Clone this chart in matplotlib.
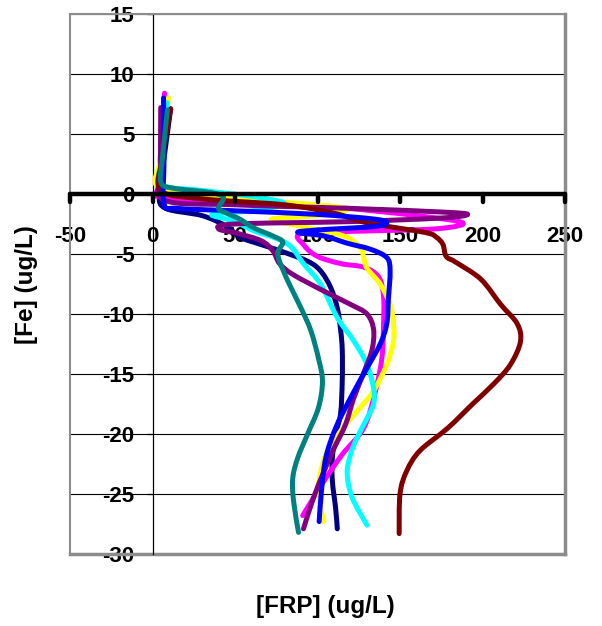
import numpy as np
import matplotlib.pyplot as plt
from matplotlib.path import Path
from matplotlib.patches import PathPatch

plt.rcParams['font.family'] = ['Liberation Sans', 'DejaVu Sans']
plt.rcParams['font.weight'] = 'bold'
plt.rcParams['axes.unicode_minus'] = False

# --- profiles: [FRP] (x) vs [Fe] (y) ---
navy_x = [11, 7, 4, 8, 30, 45, 53, 65.5, 77.6, 94, 101.8, 108, 112, 114, 115, 115, 114, 111, 109, 109, 111, 112]
navy_y = [7.1, 3, 0, -1.2, -1.8, -2.7, -3.6, -4.2, -4.75, -5.6, -6.4, -7.8, -9.5, -11.3, -13, -15.5, -18.3, -20, -22, -23.9, -26.2, -27.9]

magenta_x = [7.3, 4, 6, 60, 110, 160, 188, 172, 125, 90, 92, 100, 114, 128, 137, 140, 140, 139, 135, 128, 115, 104, 91]
magenta_y = [8.4, 1.1, -0.3, -0.7, -1.1, -1.8, -2.4, -2.9, -3.1, -3.3, -4.3, -5.2, -5.8, -6.1, -6.9, -8.5, -11, -13.7, -16.5, -19.5, -21.7, -23.9, -26.8]

yellow_x = [9.7, 5, 4, 40, 100, 118, 100, 72, 90, 116, 126, 128, 130, 138, 144, 146, 146, 142, 134, 124, 114, 106, 102, 100.6, 103.6]
yellow_y = [8, 3, 0.5, -0.3, -0.9, -1.3, -1.8, -2.1, -2.7, -3.5, -4.5, -5.3, -6.2, -7.5, -9.2, -10.8, -12.3, -14.2, -16.4, -18.1, -19.75, -21.4, -23.1, -24.75, -27.3]

cyan_x = [9, 6, 5, 30, 60, 80, 60, 36, 49, 62, 75, 84, 91.5, 101.8, 112, 122, 130, 134, 134, 130, 124, 120, 118, 121, 130]
cyan_y = [7.6, 3, 0.8, 0.3, -0.2, -0.8, -1.4, -1.7, -2.25, -3.1, -3.7, -4.4, -5.8, -7.5, -10.3, -12.25, -14.2, -16.2, -17.5, -18.7, -20.3, -21.7, -23.3, -25.3, -27.6]

purple_x = [5, 5, 7, 50, 120, 175, 191, 175, 120, 50, 40, 52, 66, 73, 77, 85, 104, 120, 130, 134, 133, 128, 122, 117, 110, 104, 97.6, 91.5]
purple_y = [7.2, 2, -0.5, -0.9, -1.2, -1.5, -1.7, -2.0, -2.3, -2.5, -2.9, -3.3, -3.9, -4.75, -5.8, -6.7, -8.1, -9.2, -10, -11.3, -13, -14.9, -17, -19.2, -21.2, -23.1, -25.3, -27.9]

maroon_x = [11, 6, 5, 30, 80, 110, 130, 165, 172, 176, 178, 184, 199, 211, 221, 223, 217, 207, 194, 179, 162, 154, 150, 149.5]
maroon_y = [7.1, 3, 0.3, -0.4, -0.9, -1.6, -2.4, -3.2, -3.6, -4.2, -5.2, -5.7, -7.1, -9.2, -10.8, -12.3, -14.2, -15.8, -17.5, -19.5, -21.4, -23.1, -25, -28.3]

teal_x = [9, 6, 5, 12, 36, 43, 40, 45, 53, 61, 73, 79, 76, 77, 82, 90, 96, 100.6, 103, 100.6, 94, 88, 85, 85.5, 88.5]
teal_y = [7.0, 3, 1, 0.5, 0.1, -0.3, -1.2, -1.6, -2.1, -2.8, -3.5, -4.0, -4.8, -5.6, -7.25, -9.5, -11.4, -13.7, -15.6, -17.8, -20, -22, -23.7, -25.6, -28.2]

blue_x = [6.7, 7, 7, 15, 50, 100, 135, 142, 135, 100, 88, 104, 118, 132, 142, 144, 143, 142, 138, 130, 120, 111, 105, 102.4, 101]
blue_y = [8, 3, -0.8, -1.2, -1.4, -1.7, -2.1, -2.4, -2.7, -3.0, -3.2, -3.5, -4.1, -4.6, -5.3, -6.4, -8.7, -10.8, -12.5, -14.5, -17, -19.5, -22, -24.75, -27.3]

series = [
    (navy_x, navy_y, '#000080'),
    (magenta_x, magenta_y, '#FF00FF'),
    (yellow_x, yellow_y, '#FFFF00'),
    (cyan_x, cyan_y, '#00FFFF'),
    (purple_x, purple_y, '#800080'),
    (maroon_x, maroon_y, '#800000'),
    (blue_x, blue_y, '#0000FF'),
    (teal_x, teal_y, '#008080'),
]

x_ticks = [-50, 0, 50, 100, 150, 200, 250]
y_ticks = [15, 10, 5, 0, -5, -10, -15, -20, -25, -30]


def smooth_path(xs, ys):
    # Excel-style smoothed line: cubic Bezier segments through every point
    p = np.column_stack([xs, ys]).astype(float)
    verts = [p[0]]
    codes = [Path.MOVETO]
    n = len(p)
    for i in range(n - 1):
        p0 = p[i - 1] if i > 0 else p[i]
        p3 = p[i + 2] if i + 2 < n else p[i + 1]
        c1 = p[i] + (p[i + 1] - p0) / 6.0
        c2 = p[i + 1] - (p3 - p[i]) / 6.0
        verts += [c1, c2, p[i + 1]]
        codes += [Path.CURVE4] * 3
    return Path(verts, codes)


fig = plt.figure(figsize=(6.02, 6.26), dpi=100)
ax = fig.add_axes([70 / 602, 1 - 554 / 626, 495 / 602, 540 / 626])
ax.set_xlim(-50, 250)
ax.set_ylim(-30, 15)

# horizontal gridlines
for yv in y_ticks:
    ax.axhline(yv, color='black', lw=0.8, zorder=1)

# plot-area frame with Excel-like shadow
ax.spines['top'].set_color('#8c8c8c')
ax.spines['top'].set_linewidth(1.5)
ax.spines['right'].set_color('#8c8c8c')
ax.spines['right'].set_linewidth(2.5)
ax.plot([0, 0], [0, 1], transform=ax.transAxes, color='#8c8c8c', lw=1.5, clip_on=False, zorder=2)
ax.plot([0, 1], [0, 0], transform=ax.transAxes, color='#8c8c8c', lw=2.5, clip_on=False, zorder=2)

# axes crossing at zero
ax.spines['left'].set_position(('data', 0))
ax.spines['left'].set_linewidth(0.9)
ax.spines['bottom'].set_visible(False)
ax.plot([-50, 250], [0, 0], color='black', lw=3.2, solid_capstyle='round', zorder=6, clip_on=False)
for xv in x_ticks:
    ax.plot([xv, xv], [0, -0.7], color='black', lw=3.2, solid_capstyle='round', zorder=6, clip_on=False)

for xs, ys, col in series:
    patch = PathPatch(smooth_path(xs, ys), facecolor='none', edgecolor=col, lw=3.6,
                      capstyle='round', joinstyle='round', zorder=4)
    ax.add_patch(patch)

ax.set_xticks(x_ticks)
ax.set_yticks(y_ticks)
ax.spines['bottom'].set_position(('data', 0))
ax.tick_params(axis='x', length=0, pad=23, labelsize=16)
ax.tick_params(axis='y', direction='out', length=4, width=0.9, pad=9, labelsize=16)
for lab in ax.get_xticklabels() + ax.get_yticklabels():
    lab.set_fontweight('bold')

fig.text(325 / 602, 1 - 606 / 626, '[FRP] (ug/L)', ha='center', va='center', fontsize=17.5, fontweight='bold')
fig.text(26 / 602, 1 - 285 / 626, '[Fe] (ug/L)', ha='center', va='center', rotation=90, fontsize=17.5, fontweight='bold')

fig.savefig('out.png', dpi=100)
